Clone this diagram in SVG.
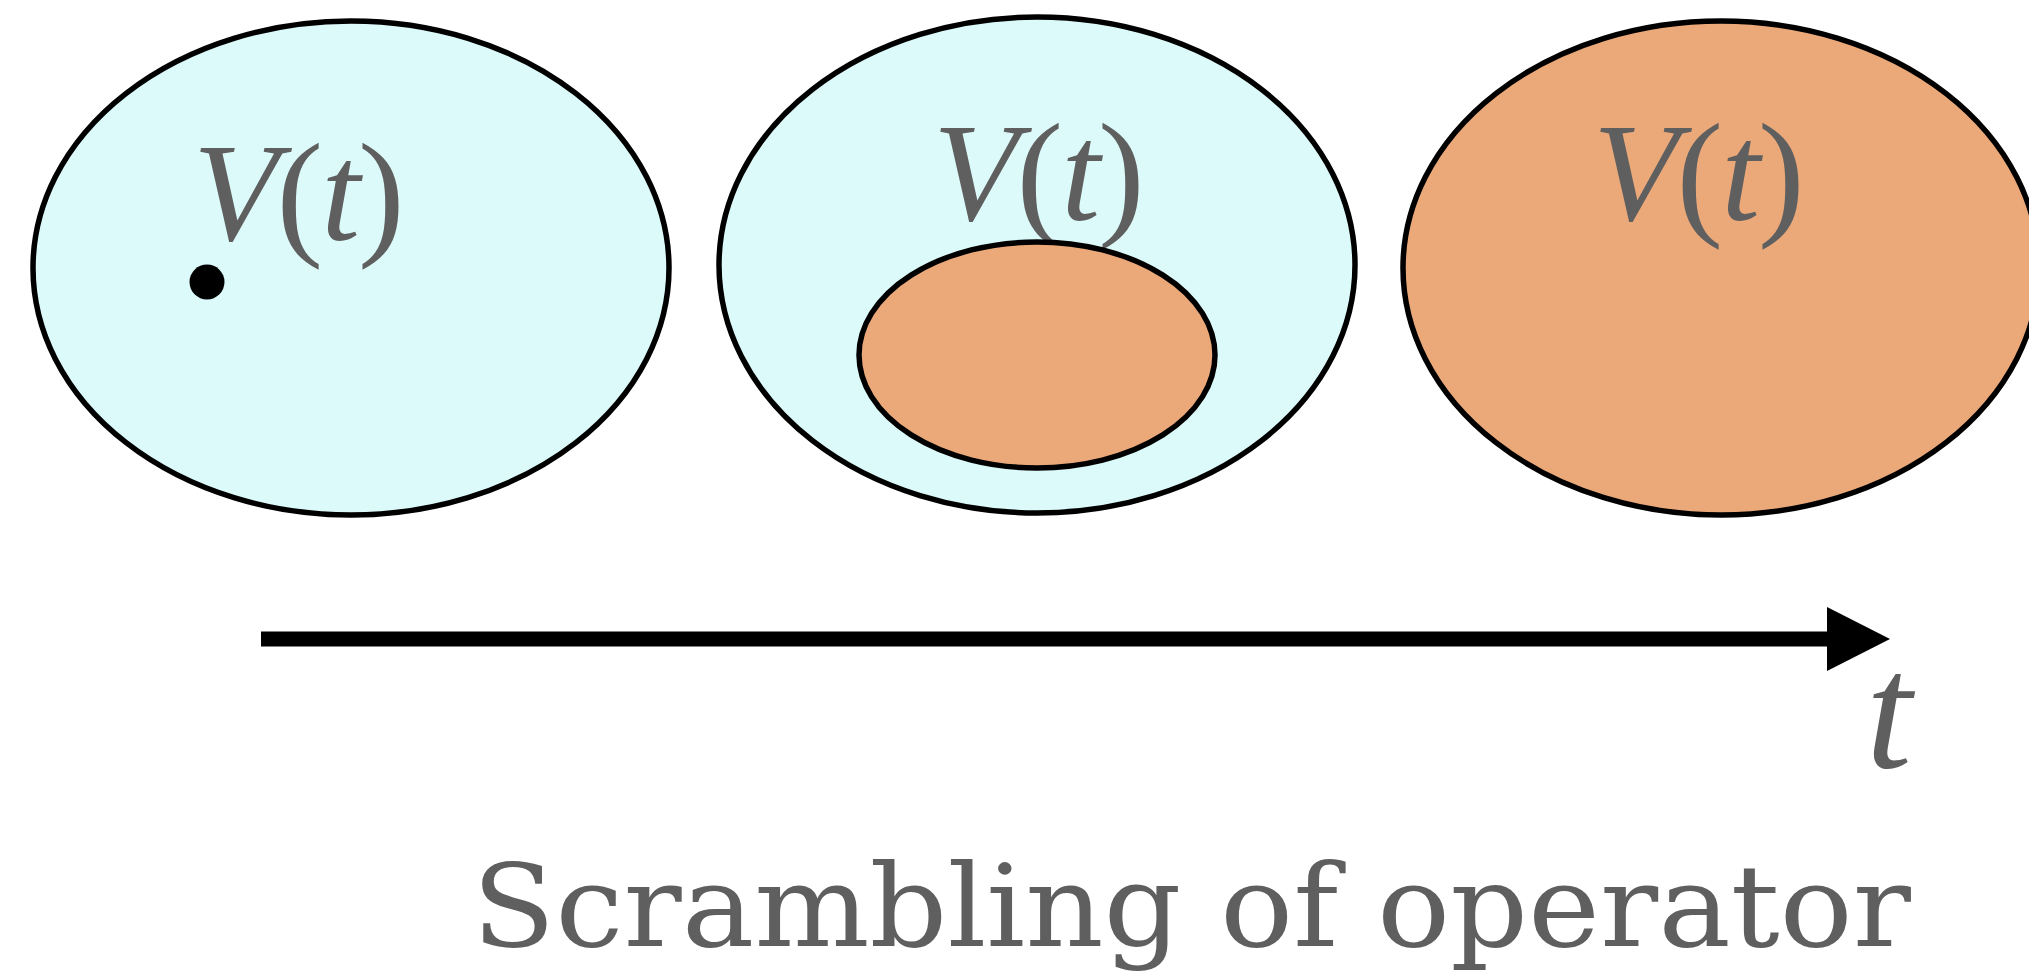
<svg xmlns="http://www.w3.org/2000/svg" width="2029" height="974" viewBox="0 0 2029 974">
<style>
.ell{stroke:#000;stroke-width:5.5}
.cyan{fill:#ddfafa}
.orange{fill:#eba97a}
.math{font-family:"Liberation Serif","Times New Roman",serif;font-size:140px;fill:#5f5f5f;letter-spacing:-2px}
.it{font-style:italic}
.title{font-family:"DejaVu Serif",serif;font-size:115px;fill:#5f5f5f;font-stretch:condensed}
</style>
<rect width="2029" height="974" fill="#fff"/>
<g id="node-left">
<ellipse class="ell cyan" cx="351" cy="268" rx="318" ry="247"/>
<text class="math" x="193" y="240"><tspan class="it">V</tspan>(<tspan class="it">t</tspan>)</text>
<circle cx="207" cy="282" r="17.5" fill="#000"/>
</g>
<g id="node-middle">
<ellipse class="ell cyan" cx="1037" cy="265" rx="318" ry="248"/>
<text class="math" x="933" y="220"><tspan class="it">V</tspan>(<tspan class="it">t</tspan>)</text>
<ellipse id="node-inner" class="ell orange" cx="1037" cy="355" rx="178" ry="113"/>
</g>
<g id="node-right">
<ellipse class="ell orange" cx="1721" cy="268" rx="318" ry="247"/>
<text class="math" x="1593" y="220"><tspan class="it">V</tspan>(<tspan class="it">t</tspan>)</text>
</g>
<g id="connectors">
<rect x="261" y="631.5" width="1570" height="15" fill="#000"/>
<polygon points="1827,607 1890,639 1827,671" fill="#000"/>
</g>
<text class="math it" x="1866" y="767" style="font-size:165px">t</text>
<text class="title" x="472" y="946" textLength="1439" lengthAdjust="spacingAndGlyphs">Scrambling of operator</text>
</svg>
